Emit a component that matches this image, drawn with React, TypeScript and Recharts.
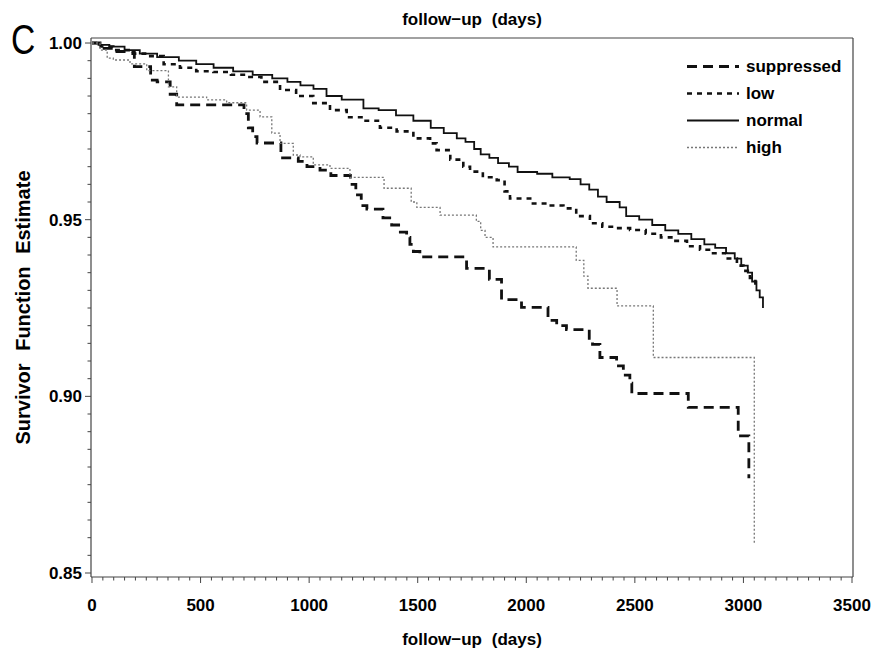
import React from 'react'
import { LineChart, Line, XAxis, YAxis, Legend, Label } from 'recharts'

// Kaplan-Meier estimates: [follow-up day, survivor estimate]
const suppressed: [number, number][] = [
  [0, 1], [37, 0.9985], [104, 0.9976], [195, 0.9933], [270, 0.9895], [300, 0.989], [360, 0.9855],
  [390, 0.9825], [700, 0.98], [720, 0.976], [740, 0.9735], [760, 0.9717], [870, 0.9675],
  [950, 0.9665], [990, 0.965], [1050, 0.964], [1100, 0.9625], [1190, 0.96], [1215, 0.957],
  [1240, 0.954], [1266, 0.953], [1340, 0.9505], [1380, 0.9485], [1420, 0.9465], [1449, 0.945],
  [1464, 0.943], [1480, 0.941], [1510, 0.9395], [1725, 0.9362], [1830, 0.9331], [1886, 0.9274],
  [1978, 0.9252], [2100, 0.9215], [2140, 0.92], [2185, 0.9189], [2290, 0.9164], [2305, 0.9147],
  [2339, 0.911], [2416, 0.9086], [2447, 0.906], [2477, 0.9037], [2486, 0.9008], [2746, 0.8969],
  [2976, 0.8888], [3025, 0.8768],
]

const low: [number, number][] = [
  [0, 1], [40, 0.999], [98, 0.998], [180, 0.997], [252, 0.9963], [330, 0.994], [405, 0.993],
  [480, 0.992], [559, 0.9918], [640, 0.991], [712, 0.9904], [780, 0.989], [866, 0.9867],
  [940, 0.985], [1019, 0.983], [1096, 0.981], [1173, 0.979], [1250, 0.978], [1326, 0.976],
  [1403, 0.975], [1480, 0.973], [1557, 0.9716], [1587, 0.9697], [1650, 0.967], [1710, 0.965],
  [1741, 0.9636], [1800, 0.962], [1864, 0.9612], [1900, 0.958], [1925, 0.956], [2018, 0.9546],
  [2100, 0.954], [2171, 0.9532], [2230, 0.951], [2293, 0.949], [2350, 0.948], [2416, 0.9476],
  [2478, 0.9471], [2550, 0.946], [2620, 0.945], [2680, 0.944], [2740, 0.9425], [2800, 0.9415],
  [2860, 0.9405], [2920, 0.939], [2970, 0.937], [3000, 0.9355], [3030, 0.9335], [3055, 0.931],
]

const normal: [number, number][] = [
  [0, 1], [30, 0.9995], [80, 0.999], [150, 0.998], [220, 0.997], [300, 0.996], [400, 0.995],
  [480, 0.994], [560, 0.993], [650, 0.992], [740, 0.991], [830, 0.99], [900, 0.989], [960, 0.988],
  [1020, 0.987], [1080, 0.985], [1150, 0.984], [1250, 0.9815], [1320, 0.981], [1400, 0.9795],
  [1480, 0.978], [1560, 0.976], [1620, 0.9745], [1680, 0.973], [1720, 0.972], [1760, 0.97],
  [1790, 0.9685], [1830, 0.9675], [1870, 0.966], [1920, 0.965], [1960, 0.9635], [2050, 0.963],
  [2120, 0.962], [2200, 0.9615], [2250, 0.96], [2290, 0.9585], [2330, 0.9565], [2370, 0.955],
  [2430, 0.9535], [2460, 0.951], [2520, 0.95], [2580, 0.9485], [2640, 0.947], [2700, 0.946],
  [2760, 0.9445], [2820, 0.943], [2870, 0.942], [2920, 0.9405], [2960, 0.939], [2990, 0.937],
  [3020, 0.935], [3040, 0.9325], [3060, 0.93], [3075, 0.928], [3090, 0.925],
]

const high: [number, number][] = [
  [0, 1], [37, 0.998], [70, 0.9957], [98, 0.9952], [175, 0.9941], [252, 0.9922], [352, 0.9876],
  [390, 0.9847], [528, 0.9839], [620, 0.9831], [712, 0.981], [774, 0.9791], [828, 0.9745],
  [866, 0.9716], [927, 0.9683], [958, 0.9678], [1019, 0.9655], [1096, 0.9645], [1188, 0.962],
  [1345, 0.9589], [1470, 0.955], [1496, 0.9535], [1603, 0.9513], [1770, 0.9495], [1790, 0.947],
  [1810, 0.945], [1847, 0.9423], [2230, 0.9385], [2265, 0.934], [2284, 0.9306], [2418, 0.9256],
  [2585, 0.911], [3050, 0.858],
]

const xMajorTicks = [0, 500, 1000, 1500, 2000, 2500, 3000, 3500]
const yMajorTicks = [0.85, 0.9, 0.95, 1.0]
const xTicks = Array.from({ length: 71 }, (_, i) => i * 50)
const yTicks = Array.from({ length: 31 }, (_, i) => Math.round((0.85 + i * 0.005) * 1000) / 1000)

const xDomain = [-4.6, 3504.6]
const yDomain = [0.84887, 1.00142]

const FONT = '"Liberation Sans", Arial, Helvetica, sans-serif'
const AXIS = '#444'

const series = [
  { name: 'suppressed', points: suppressed, color: '#111', width: 2.8, dash: '10 6' },
  { name: 'low', points: low, color: '#111', width: 2.6, dash: '5 5' },
  { name: 'normal', points: normal, color: '#111', width: 1.8, dash: undefined },
  { name: 'high', points: high, color: '#777', width: 1.3, dash: '2 2' },
]

const XTick = ({ x, y, payload }: any) => {
  const v = payload.value
  const major = xMajorTicks.includes(v)
  return (
    <g>
      <line x1={x} y1={y} x2={x} y2={y + (major ? 6 : 3.5)} stroke={AXIS} strokeWidth={1} />
      {major && (
        <text x={x} y={y + 34} textAnchor="middle" fontSize={17} fontWeight="bold" fontFamily={FONT} fill="#000">
          {v}
        </text>
      )}
    </g>
  )
}

const YTick = ({ x, y, payload }: any) => {
  const v = payload.value
  const major = yMajorTicks.some(m => Math.abs(m - v) < 1e-6)
  return (
    <g>
      <line x1={x} y1={y} x2={x - (major ? 6 : 3.5)} y2={y} stroke={AXIS} strokeWidth={1} />
      {major && (
        <text x={x - 9} y={y + 6} textAnchor="end" fontSize={17} fontWeight="bold" fontFamily={FONT} fill="#000">
          {v.toFixed(2)}
        </text>
      )}
    </g>
  )
}

const LegendBox = () => (
  <div style={{ fontFamily: FONT, fontSize: 17, fontWeight: 'bold', color: '#000' }}>
    {series.map(s => (
      <div key={s.name} style={{ display: 'flex', alignItems: 'center', height: 27 }}>
        <svg width={56} height={27}>
          <line x1={1} y1={13.5} x2={53} y2={13.5} stroke={s.color} strokeWidth={s.width} strokeDasharray={s.dash} />
        </svg>
        <span style={{ marginLeft: 4 }}>{s.name}</span>
      </div>
    ))}
  </div>
)

export default function App() {
  return (
    <div style={{ position: 'absolute', left: 0, top: 0, width: 871, height: 655, background: '#fff' }}>
      <div
        style={{
          position: 'absolute', left: 11, top: 19, fontFamily: FONT, fontSize: 42, lineHeight: '42px',
          transform: 'scaleX(0.8)', transformOrigin: 'left top', color: '#000',
        }}
      >
        C
      </div>
      <LineChart width={871} height={655} margin={{ top: 0, right: 0, bottom: 0, left: 0 }}>
        <XAxis
          dataKey="t"
          type="number"
          domain={xDomain}
          allowDataOverflow
          ticks={xTicks}
          interval={0}
          tick={<XTick />}
          tickLine={false}
          tickSize={0}
          tickMargin={0}
          height={78}
          axisLine={{ stroke: AXIS, strokeWidth: 1.2 }}
        >
          <Label value="follow−up (days)" position="insideBottom" offset={10} fontSize={17} fontWeight="bold" fontFamily={FONT} fill="#000" style={{ wordSpacing: '5px' }} />
        </XAxis>
        <XAxis
          xAxisId="top"
          orientation="top"
          type="number"
          domain={xDomain}
          allowDataOverflow
          tick={false}
          tickLine={false}
          height={38}
          axisLine={{ stroke: AXIS, strokeWidth: 1.2 }}
        >
          <Label value="follow−up (days)" position="center" fontSize={17} fontWeight="bold" fontFamily={FONT} fill="#000" style={{ wordSpacing: '5px' }} />
        </XAxis>
        <YAxis
          type="number"
          domain={yDomain}
          allowDataOverflow
          ticks={yTicks}
          interval={0}
          tick={<YTick />}
          tickLine={false}
          tickSize={0}
          tickMargin={0}
          width={91}
          axisLine={{ stroke: AXIS, strokeWidth: 1.2 }}
        >
          <Label
            value="Survivor Function Estimate"
            angle={-90}
            position="insideLeft"
            offset={23}
            fontSize={20}
            fontWeight="bold"
            fontFamily={FONT}
            fill="#000"
            style={{ textAnchor: 'middle', wordSpacing: '7px' }}
          />
        </YAxis>
        <YAxis
          yAxisId="right"
          orientation="right"
          type="number"
          domain={yDomain}
          allowDataOverflow
          tick={false}
          tickLine={false}
          width={18}
          axisLine={{ stroke: AXIS, strokeWidth: 1.2 }}
        />
        <Legend
          layout="horizontal"
          verticalAlign="middle"
          content={<LegendBox />}
          wrapperStyle={{ top: 53, left: 686, width: 170 }}
        />
        {series.map(s => (
          <Line
            key={s.name}
            name={s.name}
            data={s.points.map(([t, v]) => ({ t, s: v }))}
            dataKey="s"
            type="stepAfter"
            stroke={s.color}
            strokeWidth={s.width}
            strokeDasharray={s.dash}
            dot={false}
            activeDot={false}
            isAnimationActive={false}
          />
        ))}
      </LineChart>
    </div>
  )
}
